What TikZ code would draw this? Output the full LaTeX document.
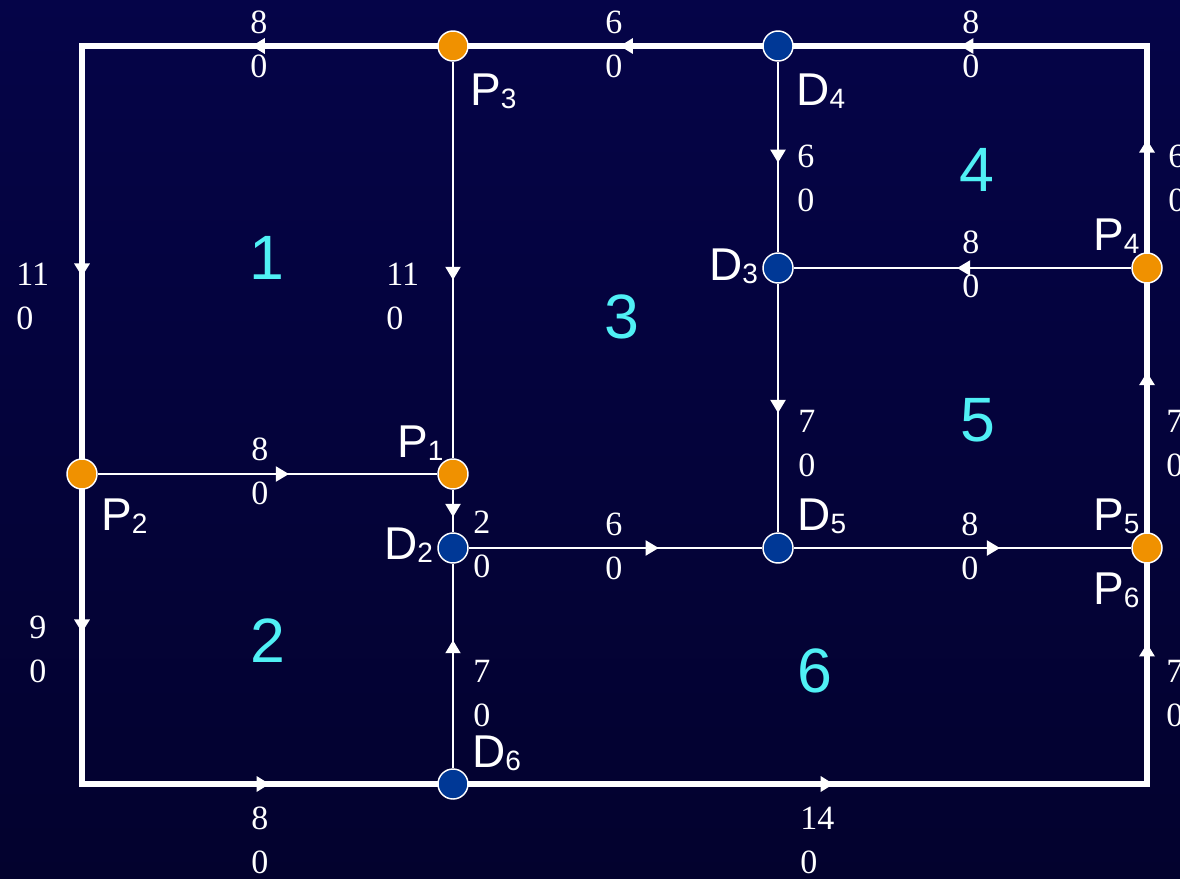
\documentclass[tikz,border=0pt]{standalone}
\usepackage{fontspec}
\setmainfont{Liberation Serif}
\newfontfamily\sansf{Liberation Sans}
\usetikzlibrary{arrows.meta,decorations.markings}
\definecolor{bgtop}{RGB}{5,4,72}
\definecolor{bgmid}{RGB}{3,3,64}
\definecolor{bgbot}{RGB}{3,2,46}
\definecolor{porange}{RGB}{240,145,0}
\definecolor{dblue}{RGB}{0,56,150}
\definecolor{regcyan}{RGB}{80,240,245}
\pgfdeclarelayer{bg}
\pgfdeclarelayer{edges}
\pgfsetlayers{bg,edges,main}
\newcommand\nodelbl[2]{{\sansf\fontsize{34.5}{34.5}\selectfont #1\raisebox{-0.08em}{\fontsize{21}{21}\selectfont #2}}}
\tikzset{
  pnode/.style={circle, fill=porange, draw=white, line width=1.1pt, minimum size=22.5pt, inner sep=0pt},
  dnode/.style={circle, fill=dblue, draw=white, line width=1.1pt, minimum size=22.5pt, inner sep=0pt},
  wall/.style={draw=white, line width=4.2pt, line cap=rect},
  road/.style={draw=white, line width=1.5pt},
  mk/.style={postaction={decorate}, decoration={markings, mark=at position #1 with {\arrow{Triangle[length=9.75pt,width=11.25pt]}}}},
  num/.style={font=\fontsize{25.5}{33}\selectfont, text=white, align=left, anchor=base west, inner sep=0pt},
  lbl/.style={text=white, anchor=base west, inner sep=0pt},
  reg/.style={text=regcyan, font=\sansf\fontsize{47}{47}\selectfont, inner sep=0pt}
}
\begin{document}
\begin{tikzpicture}[x=0.75pt,y=-0.75pt]
\useasboundingbox (0,0) rectangle (1180,878);
\clip (0,0) rectangle (1180,878);
\begin{pgfonlayer}{bg}
\shade[top color=bgtop, middle color=bgmid, bottom color=bgbot] (0,0) rectangle (1180,878);
\end{pgfonlayer}

% corners
\coordinate (TL) at (82,46);
\coordinate (TR) at (1147,46);
\coordinate (BL) at (82,784);
\coordinate (BR) at (1147,784);

% junction nodes
\node[pnode] (P3) at (453,46) {};
\node[dnode] (D4) at (778,46) {};
\node[pnode] (P2) at (82,474) {};
\node[pnode] (P1) at (453,474) {};
\node[dnode] (D2) at (453,548) {};
\node[dnode] (D5) at (778,548) {};
\node[pnode] (P5) at (1147,548) {};
\node[dnode] (D3) at (778,268) {};
\node[pnode] (P4) at (1147,268) {};
\node[dnode] (D6) at (453,784) {};

\begin{pgfonlayer}{edges}
% outer frame
\draw[wall,mk=0.528] (TR) -- (D4);
\draw[wall,mk=0.485] (D4) -- (P3);
\draw[wall,mk=0.522] (P3) -- (TL);
\draw[wall,mk=0.559] (TL) -- (P2);
\draw[wall,mk=0.485] (P2) -- (BL);
\draw[wall,mk=0.528] (BL) -- (D6);
\draw[wall,mk=0.538] (D6) -- (BR);
\draw[wall,mk=0.638] (BR) -- (P5);
\draw[wall,mk=0.644] (P5) -- (P4);
\draw[wall,mk=0.546] (P4) -- (TR);
% inner roads
\draw[road,mk=0.55] (P3) -- (P1);
\draw[road,mk=0.563] (P2) -- (P1);
\draw[road,mk=0.64] (P1) -- (D2);
\draw[road,mk=0.647] (D2) -- (D5);
\draw[road,mk=0.626] (D6) -- (D2);
\draw[road,mk=0.53] (D4) -- (D3);
\draw[road,mk=0.516] (P4) -- (D3);
\draw[road,mk=0.52] (D3) -- (D5);
\draw[road,mk=0.611] (D5) -- (P5);
\end{pgfonlayer}

% edge values (anchor = baseline of the second line)
\node[num] (v1) at (250,77) {8\\0};
\node[num] (v2) at (605,77) {6\\0};
\node[num] (v3) at (962,77) {8\\0};
\node[num] (v4) at (16,329) {11\\0};
\node[num] (v5) at (386,329) {11\\0};
\node[num] (v6) at (797,211) {6\\0};
\node[num] (v7) at (1168,211) {6\\0};
\node[num] (v8) at (962,297) {8\\0};
\node[num] (v9) at (798,476) {7\\0};
\node[num] (v10) at (1166,476) {7\\0};
\node[num] (v11) at (251,504) {8\\0};
\node[num] (v12) at (473,577) {2\\0};
\node[num] (v13) at (605,579) {6\\0};
\node[num] (v14) at (961,579) {8\\0};
\node[num] (v15) at (29,682) {9\\0};
\node[num] (v16) at (473,726) {7\\0};
\node[num] (v17) at (1166,726) {7\\0};
\node[num] (v18) at (251,873) {8\\0};
\node[num] (v19) at (800,873) {14\\0};

% point labels
\node[lbl] (lP3) at (470,105) {\nodelbl{P}{3}};
\node[lbl] (lD4) at (796,105) {\nodelbl{D}{4}};
\node[lbl] (lD3) at (709,280) {\nodelbl{D}{3}};
\node[lbl] (lP4) at (1093,250) {\nodelbl{P}{4}};
\node[lbl] (lP1) at (397,457) {\nodelbl{P}{1}};
\node[lbl] (lP2) at (101,530) {\nodelbl{P}{2}};
\node[lbl] (lD2) at (384,559) {\nodelbl{D}{2}};
\node[lbl] (lD6) at (472,767) {\nodelbl{D}{6}};
\node[lbl] (lD5) at (797,530) {\nodelbl{D}{5}};
\node[lbl] (lP5) at (1093,530) {\nodelbl{P}{5}};
\node[lbl] (lP6) at (1093,604) {\nodelbl{P}{6}};

% region numbers
\node[reg] (r1) at (267,258) {1};
\node[reg] (r2) at (268,641) {2};
\node[reg] (r3) at (622,317) {3};
\node[reg] (r4) at (977,170) {4};
\node[reg] (r5) at (978,420) {5};
\node[reg] (r6) at (815,671) {6};
\end{tikzpicture}
\end{document}
